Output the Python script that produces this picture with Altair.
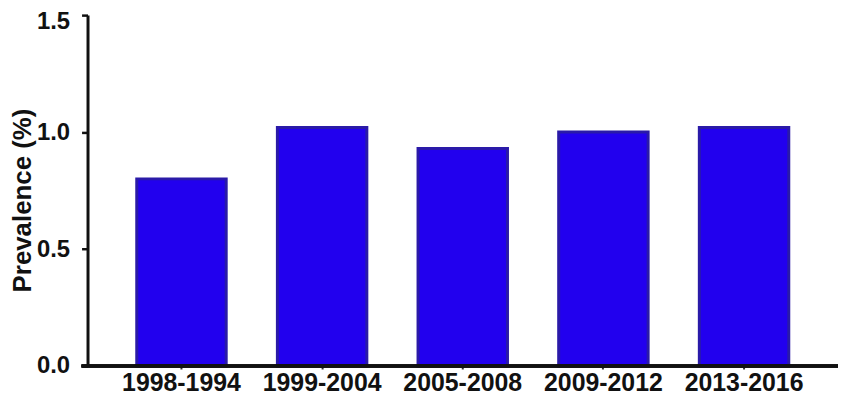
import altair as alt
import pandas as pd

periods = ["1998-1994", "1999-2004", "2005-2008", "2009-2012", "2013-2016"]
prevalence = [0.80, 1.02, 0.93, 1.00, 1.02]

df = pd.DataFrame({"period": periods, "prevalence": prevalence})

W, H = 755, 353
FONT = "Liberation Sans"

bars = alt.Chart(df).mark_bar(
    color="#2200ee", stroke="#2a1aa8", strokeWidth=3
).encode(
    x=alt.X("period:N", sort=periods,
            scale=alt.Scale(paddingInner=0.364, paddingOuter=0.35),
            axis=alt.Axis(title=None, labelAngle=0, labelFont=FONT, labelFontSize=25,
                          labelFontWeight="bold", labelColor="#111", labelPadding=2,
                          domain=False, tickSize=3, tickWidth=2, tickColor="#333")),
    y=alt.Y("prevalence:Q",
            scale=alt.Scale(domain=[0, 1.5], nice=False, zero=True),
            axis=alt.Axis(title="Prevalence (%)", values=[0, 0.5, 1.0, 1.5], format=".1f",
                          labelFont=FONT, labelFontSize=24, labelFontWeight="bold",
                          labelColor="#111", labelPadding=12,
                          labelOffset=alt.expr("datum.value == 1.5 ? 6 : 0"),
                          tickSize=6, tickWidth=2.5, tickColor="#111",
                          domainWidth=3, domainColor="#111",
                          titleFont=FONT, titleFontSize=26, titleFontWeight="bold",
                          titleColor="#111", titleAngle=-90, titleAlign="center",
                          titleBaseline="alphabetic", titleX=-57, titleY=186,
                          grid=False))
)

xline = alt.Chart(df).mark_rule(color="#111", strokeWidth=3).encode(
    x=alt.value(-6), x2=alt.value(W), y=alt.value(H)
)

chart = alt.layer(bars, xline).properties(
    width=W, height=H,
    autosize=alt.AutoSizeParams(type="none"),
    padding={"left": 80, "top": 6, "right": 0, "bottom": 29},
).configure_view(stroke=None)

chart.save("out.html", embed_options={"renderer": "svg", "actions": False})
